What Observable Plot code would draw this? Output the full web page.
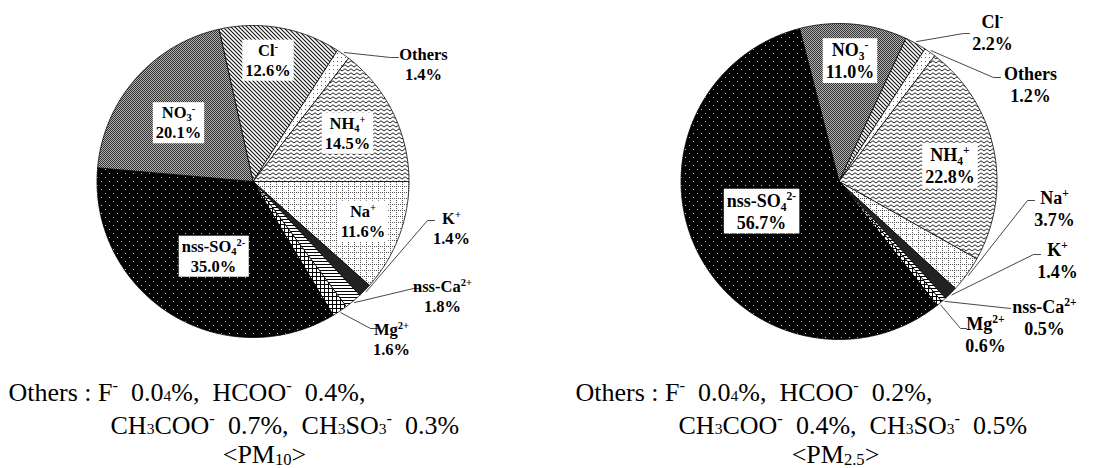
<!DOCTYPE html>
<html><head><meta charset="utf-8">
<script src="https://cdn.jsdelivr.net/npm/d3@7"></script>
<script src="https://cdn.jsdelivr.net/npm/@observablehq/plot@0.6"></script>
<style>html,body{margin:0;padding:0;background:#fff;overflow:hidden}</style>
</head><body><div id="chart"></div>
<script>
// ---- data ----
const pm10Ions = ["Cl^{-}", "Others", "NH_{4}^{+}", "Na^{+}", "K^{+}", "nss-Ca^{2+}", "Mg^{2+}", "nss-SO_{4}^{2-}", "NO_{3}^{-}"];
const pm10Values = [12.6, 1.4, 14.5, 11.6, 1.4, 1.8, 1.6, 35.0, 20.1];
const pm25Ions = ["NO_{3}^{-}", "Cl^{-}", "Others", "NH_{4}^{+}", "Na^{+}", "K^{+}", "nss-Ca^{2+}", "Mg^{2+}", "nss-SO_{4}^{2-}"];
const pm25Values = [11.0, 2.2, 1.2, 22.8, 3.7, 1.4, 0.5, 0.6, 56.7];
const pm10Notes = ["Others\u00a0:\u00a0F^{-}\u00a0\u00a00.0~{4}%,\u00a0\u00a0HCOO^{-}\u00a0\u00a00.4%,", "CH~{3}COO^{-}\u00a0\u00a00.7%,\u00a0\u00a0CH~{3}SO~{3}^{-}\u00a0\u00a00.3%", "<PM_{10}>"];
const pm25Notes = ["Others\u00a0:\u00a0F^{-}\u00a0\u00a00.0~{4}%,\u00a0\u00a0HCOO^{-}\u00a0\u00a00.2%,", "CH~{3}COO^{-}\u00a0\u00a00.4%,\u00a0\u00a0CH~{3}SO~{3}^{-}\u00a0\u00a00.5%", "<PM_{2.5}>"];

// ---- styles / layout ----
const patternOf = {"Cl^{-}":"url(#pat-cl)", "Others":"url(#pat-others)", "NH_{4}^{+}":"url(#pat-nh4)", "Na^{+}":"url(#pat-na)",
  "K^{+}":"#222", "nss-Ca^{2+}":"url(#pat-ca)", "Mg^{2+}":"url(#pat-mg)", "nss-SO_{4}^{2-}":"url(#pat-so4)", "NO_{3}^{-}":"url(#pat-no3)"};
const layout10 = {cx:252.5, cy:181, r:156, start:-12.6, font:16.5, lh:1.2,
  inside:{"Cl^{-}":[267.5,59], "NO_{3}^{-}":[178,121.5], "NH_{4}^{+}":[347,132], "Na^{+}":[362.5,220], "nss-SO_{4}^{2-}":[213,255]},
  outside:{"Others":{text:[423,63], leader:[[390,57],[398,57]]}, "K^{+}":{text:[451,227], leader:[[427,220],[434,220]]},
    "nss-Ca^{2+}":{text:[442,295], leader:[[413,288],[420,288]]}, "Mg^{2+}":{text:[391,338], leader:[[370,328],[377,328]]}},
  notes:[[8,400,"start"],[110,433,"start"],[264,462,"middle"]]};
const layout25 = {cx:838.5, cy:181, r:158, start:-14.5, font:18, lh:1.22,
  inside:{"NO_{3}^{-}":[849.5,59.5], "NH_{4}^{+}":[949.5,164], "nss-SO_{4}^{2-}":[761,210]},
  outside:{"Cl^{-}":{text:[992,31.5], leader:[[963,33],[969,33]]}, "Others":{text:[1030,83.5], leader:[[993,77],[1000,77]]},
    "Na^{+}":{text:[1054,207.5], leader:[[1027,200],[1034,200]]}, "K^{+}":{text:[1057,259.5], leader:[[1033,254],[1040,254]]},
    "nss-Ca^{2+}":{text:[1044,316.5], leader:[[1010,308]]}, "Mg^{2+}":{text:[985,333.5], leader:[[960,328],[966,328]]}},
  notes:[[575,400,"start"],[678,433,"start"],[835,462,"middle"]]};

function build(pie, ions, values, L) {
  const total = d3.sum(values);
  let a = L.start;
  const poly = [], inside = [], outside = [], leaders = [];
  ions.forEach((ion, i) => {
    const span = values[i] / total * 360, a0 = a, a1 = a + span, key = pie + "-" + i;
    const n = Math.max(2, Math.ceil(span / 0.5));
    poly.push({key, x: L.cx, y: L.cy, fill: patternOf[ion]});
    for (let k = 0; k <= n; k++) {
      const t = (a0 + (a1 - a0) * k / n) * Math.PI / 180;
      poly.push({key, x: L.cx + L.r * Math.sin(t), y: L.cy - L.r * Math.cos(t), fill: patternOf[ion]});
    }
    poly.push({key, x: L.cx, y: L.cy, fill: patternOf[ion]});
    const label = `${ion}\n${values[i].toFixed(1)}%`;
    if (L.inside[ion]) inside.push({x: L.inside[ion][0], y: L.inside[ion][1], label});
    if (L.outside[ion]) {
      const o = L.outside[ion];
      outside.push({x: o.text[0], y: o.text[1], label});
      const t = (a0 + a1) / 2 * Math.PI / 180;
      leaders.push({key, x: L.cx + (L.r + 2) * Math.sin(t), y: L.cy - (L.r + 2) * Math.cos(t)});
      o.leader.forEach(([x, y]) => leaders.push({key, x, y}));
    }
    a = a1;
  });
  return {poly, inside, outside, leaders};
}
const P10 = build("pm10", pm10Ions, pm10Values, layout10);
const P25 = build("pm25", pm25Ions, pm25Values, layout25);
const notes = [...pm10Notes.map((t, i) => ({t, x: layout10.notes[i][0], y: layout10.notes[i][1], anchor: layout10.notes[i][2]})),
               ...pm25Notes.map((t, i) => ({t, x: layout25.notes[i][0], y: layout25.notes[i][1], anchor: layout25.notes[i][2]}))];

const serif = "'Liberation Serif', 'Times New Roman', serif";
const labelMarks = (P, L) => [
  Plot.line(P.leaders, {x: "x", y: "y", z: "key", stroke: "#333", strokeWidth: 0.9, curve: "linear"}),
  Plot.text(P.inside, {x: "x", y: "y", text: "label", fontSize: L.font, lineHeight: L.lh, fontWeight: "bold", fontFamily: serif, fill: "#000"}),
  Plot.text(P.outside, {x: "x", y: "y", text: "label", fontSize: L.font, lineHeight: L.lh, fontWeight: "bold", fontFamily: serif, fill: "#000"})
];
const allPoly = [...P10.poly, ...P25.poly];

const svg = Plot.plot({
  width: 1096, height: 468, margin: 0,
  x: {domain: [0, 1096], range: [0, 1096], axis: null},
  y: {domain: [0, 468], range: [0, 468], axis: null},
  color: {type: "identity"},
  style: {background: "#fff", overflow: "visible"},
  marks: [
    Plot.line(allPoly, {x: "x", y: "y", z: "key", fill: "fill", stroke: "#000", strokeWidth: 0.8, curve: "linear"}),
    ...labelMarks(P10, layout10),
    ...labelMarks(P25, layout25),
    Plot.text(notes.filter(d => d.anchor === "start"), {x: "x", y: "y", text: "t", textAnchor: "start", lineAnchor: "bottom", fontSize: 26, fontFamily: serif, fill: "#000"}),
    Plot.text(notes.filter(d => d.anchor === "middle"), {x: "x", y: "y", text: "t", textAnchor: "middle", lineAnchor: "bottom", fontSize: 26, fontFamily: serif, fill: "#000"})
  ]
});
document.getElementById("chart").appendChild(svg);
const groups = Array.from(svg.querySelectorAll(":scope > g[aria-label]"));
const [gSlices, gLeadA, gBoxA, gOutA, gLeadB, gBoxB, gOutB, gNotes, gTitles] = groups;

// ---- patterns ----
let tx = 0, ty = 0;
const m = gSlices && (gSlices.getAttribute("transform") || "").match(/translate\(([-\d.]+)[ ,]*([-\d.]*)/);
if (m) { tx = +m[1]; ty = m[2] === "" ? 0 : +m[2]; }
const defs = d3.select(svg).insert("defs", ":first-child");
function pat(id, w, h, bg, fn) {
  const p = defs.append("pattern").attr("id", "pat-" + id).attr("patternUnits", "userSpaceOnUse")
    .attr("x", -tx).attr("y", -ty).attr("width", w).attr("height", h);
  p.append("rect").attr("width", w).attr("height", h).attr("fill", bg);
  fn(p);
}
const px = (p, x, y, w, h, c) => p.append("rect").attr("x", x).attr("y", y).attr("width", w).attr("height", h).attr("fill", c);
pat("cl", 4, 4, "#fff", p => p.append("path").attr("d", "M-1,-1L5,5M-1,3L1,5M3,-1L5,1").attr("stroke", "#111").attr("stroke-width", 1.1));
pat("others", 4, 4, "#fff", p => px(p, 1, 1, 1, 1, "#666"));
pat("nh4", 6, 4, "#fff", p => p.append("path").attr("d", "M0,3L3,0.8L6,3").attr("stroke", "#222").attr("stroke-width", 1).attr("fill", "none"));
pat("na", 6, 6, "#fff", p => { [[0,0],[2,0],[4,0],[0,2],[0,4]].forEach(([x, y]) => px(p, x, y, 1, 1, "#555")); });
pat("ca", 4, 3, "#fff", p => px(p, 0, 0, 4, 1, "#000"));
pat("mg", 4, 4, "#fff", p => { px(p, 0, 0, 4, 1, "#000"); px(p, 0, 0, 1, 4, "#000"); });
pat("so4", 8, 8, "#000", p => { px(p, 1, 1, 1, 1, "#ccc"); px(p, 5, 5, 1, 1, "#ccc"); });
pat("no3", 2, 2, "#b0b0b0", p => { px(p, 0, 0, 1, 1, "#333"); px(p, 1, 1, 1, 1, "#333"); });

// ---- rich text (sub/superscripts) ----
const NS = "http://www.w3.org/2000/svg";
function richify(node, fs, subShift) {
  const s = node.textContent;
  if (!/[\^_~]\{/.test(s)) return;
  const parts = s.split(/([\^_~]\{[^}]*\})/).filter(p => p !== "");
  node.textContent = "";
  for (const p of parts) {
    const t = document.createElementNS(NS, "tspan");
    if (/^[\^_~]\{/.test(p)) {
      const kind = p[0];
      t.textContent = p.slice(2, -1);
      t.setAttribute("font-size", (kind === "~" ? 0.6 : 0.64) * fs);
      const shift = kind === "^" ? 0.38 * fs : kind === "_" ? -subShift * fs : 0;
      if (shift) t.setAttribute("baseline-shift", shift);
    } else t.textContent = p;
    node.appendChild(t);
  }
}
function richAll(g, fs, subShift) {
  if (!g) return;
  g.querySelectorAll("text").forEach(text => {
    const spans = Array.from(text.children).filter(c => c.tagName.toLowerCase() === "tspan");
    if (spans.length) spans.forEach(sp => richify(sp, fs, subShift));
    else richify(text, fs, subShift);
  });
}
richAll(gBoxA, layout10.font, 0.2);
richAll(gOutA, layout10.font, 0.2);
richAll(gBoxB, layout25.font, 0.2);
richAll(gOutB, layout25.font, 0.2);
richAll(gNotes, 26, 0);
richAll(gTitles, 26, 0.06);

// ---- white boxes behind inside labels ----
[gBoxA, gBoxB].forEach(g => g && g.querySelectorAll("text").forEach(text => {
  const b = text.getBBox();
  const r = document.createElementNS(NS, "rect");
  r.setAttribute("x", b.x - 3); r.setAttribute("y", b.y - 1);
  r.setAttribute("width", b.width + 6); r.setAttribute("height", b.height + 2);
  r.setAttribute("fill", "#fff");
  const tr = text.getAttribute("transform"); if (tr) r.setAttribute("transform", tr);
  text.parentNode.insertBefore(r, text);
}));
</script></body></html>
